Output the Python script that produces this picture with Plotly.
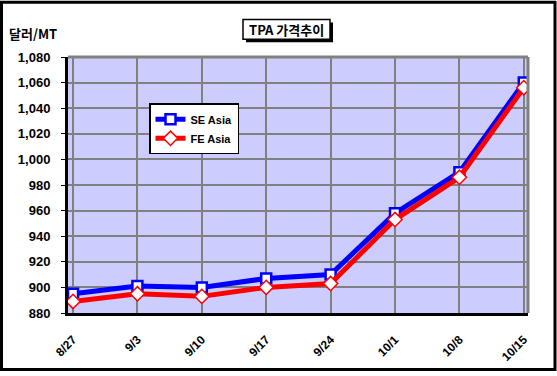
import plotly.graph_objects as go

dates = ["8/27", "9/3", "9/10", "9/17", "9/24", "10/1", "10/8", "10/15"]
se_asia = [895, 901, 900, 907, 910, 958, 990, 1060]
fe_asia = [889, 895, 893, 900, 903, 953, 986, 1056]
y_ticks = list(range(880, 1081, 20))

FONT = "Liberation Sans, Arial, sans-serif"
KFONT = "Noto Sans CJK KR, Liberation Sans, sans-serif"

W, H = 557, 376
ML, MR, MT, MB = 68, 29, 57, 59
PW, PH = W - ML - MR, H - MT - MB


def px(x):
    return (x - ML) / PW


def py(y):
    return (H - MB - y) / PH


fig = go.Figure()
fig.add_trace(go.Scatter(
    x=dates, y=se_asia, name="SE Asia", mode="lines+markers",
    line=dict(color="#0000FF", width=5),
    marker=dict(symbol="square", size=10, color="white", line=dict(color="#0000FF", width=2.5)),
))
fig.add_trace(go.Scatter(
    x=dates, y=fe_asia, name="FE Asia", mode="lines+markers",
    line=dict(color="#FF0000", width=5),
    marker=dict(symbol="diamond", size=11, color="white", line=dict(color="#FF0000", width=1.5)),
))

fig.update_layout(
    width=W, height=H,
    margin=dict(l=ML, r=MR, t=MT, b=MB),
    paper_bgcolor="white", plot_bgcolor="#CCCCFF",
    font=dict(family=FONT, size=11, color="black"),
    showlegend=True,
    legend=dict(
        x=px(149), y=py(104), xanchor="left", yanchor="top",
        bgcolor="white", bordercolor="black", borderwidth=1.5,
        font=dict(family=FONT, size=11, color="black", weight="bold"),
        itemwidth=30, tracegroupgap=4,
    ),
    xaxis=dict(
        type="category", range=[-0.078, 7.065],
        showgrid=True, gridcolor="#808080", gridwidth=2,
        showline=True, linecolor="black", linewidth=3,
        tickangle=-45, ticks="", ticklabelstandoff=12,
        tickfont=dict(family=FONT, size=12, color="black", weight="bold"),
    ),
    yaxis=dict(
        range=[880, 1080], tickvals=y_ticks, tickformat=",d",
        showgrid=True, gridcolor="#808080", gridwidth=2,
        showline=True, linecolor="black", linewidth=3,
        ticks="outside", ticklen=4, tickcolor="black",
        ticklabelstandoff=8,
        tickfont=dict(family=FONT, size=13, color="black", weight="bold"),
        zeroline=False,
    ),
    shapes=[
        dict(type="line", xref="paper", yref="paper", x0=1, x1=1, y0=0, y1=1,
             line=dict(color="#808080", width=3)),
        dict(type="line", xref="paper", yref="paper", x0=0, x1=1, y0=1, y1=1,
             line=dict(color="#808080", width=3)),
        dict(type="rect", xref="paper", yref="paper",
             x0=px(1.5), x1=px(555), y0=py(374.5), y1=py(1.5),
             line=dict(color="black", width=3)),
        # title box shadow
        dict(type="rect", xref="paper", yref="paper",
             x0=px(246), x1=px(333), y0=py(42), y1=py(22),
             fillcolor="black", line=dict(width=0)),
        dict(type="rect", xref="paper", yref="paper",
             x0=px(243), x1=px(330), y0=py(39), y1=py(19),
             fillcolor="white", line=dict(color="black", width=1.5)),
    ],
    annotations=[
        dict(text="TPA 가격추이", xref="paper", yref="paper", x=px(286.5), y=py(29),
             xanchor="center", yanchor="middle", showarrow=False,
             font=dict(family=KFONT, size=13, color="black", weight="bold")),
        dict(text="달러/MT", xref="paper", yref="paper", x=px(7), y=py(33),
             xanchor="left", yanchor="middle", showarrow=False,
             font=dict(family=KFONT, size=13, color="black", weight="bold")),
    ],
)

fig.write_html("out.html", config={"displayModeBar": False})

with open("out.html", "r", encoding="utf-8") as f:
    html = f.read()
html = html.replace("<head>", "<head><style>html,body{margin:0;padding:0;overflow:hidden;}</style>", 1)
with open("out.html", "w", encoding="utf-8") as f:
    f.write(html)
